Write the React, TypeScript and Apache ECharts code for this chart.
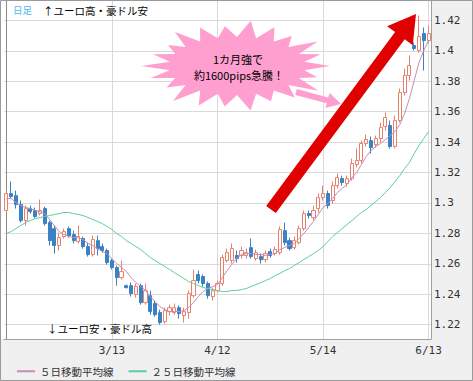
import React, { useEffect, useRef } from "react";
import * as echarts from "echarts";

// Trading days (weekdays) 2013-02-11 .. 2013-06-13
const febDays = [11, 12, 13, 14, 15, 18, 19, 20, 21, 22, 25, 26, 27, 28];
const marDays = [1, 4, 5, 6, 7, 8, 11, 12, 13, 14, 15, 18, 19, 20, 21, 22, 25, 26, 27, 28, 29];
const aprDays = [1, 2, 3, 4, 5, 8, 9, 10, 11, 12, 15, 16, 17, 18, 19, 22, 23, 24, 25, 26, 29, 30];
const mayDays = [1, 2, 3, 6, 7, 8, 9, 10, 13, 14, 15, 16, 17, 20, 21, 22, 23, 24, 27, 28, 29, 30, 31];
const junDays = [3, 4, 5, 6, 7, 10, 11, 12, 13];
const categories: string[] = [
  ...febDays.map((d) => `2/${d}`),
  ...marDays.map((d) => `3/${d}`),
  ...aprDays.map((d) => `4/${d}`),
  ...mayDays.map((d) => `5/${d}`),
  ...junDays.map((d) => `6/${d}`),
];

const gridDates = ["2/11", "3/13", "4/12", "5/14", "6/13"];
const tickLabels = ["3/13", "4/12", "5/14", "6/13"];

// [open, close, low, high]
const ohlc: number[][] = [
  [1.2950, 1.3062, 1.2937, 1.3081],
  [1.3062, 1.3042, 1.3029, 1.3141],
  [1.3048, 1.2989, 1.2963, 1.3081],
  [1.2989, 1.2884, 1.2871, 1.3016],
  [1.2884, 1.2963, 1.2851, 1.2983],
  [1.2963, 1.2943, 1.2930, 1.2983],
  [1.2950, 1.2911, 1.2897, 1.2970],
  [1.2930, 1.2950, 1.2917, 1.3022],
  [1.2963, 1.2864, 1.2851, 1.2976],
  [1.2871, 1.2752, 1.2720, 1.2884],
  [1.2831, 1.2720, 1.2667, 1.2851],
  [1.2720, 1.2772, 1.2687, 1.2805],
  [1.2779, 1.2812, 1.2766, 1.2831],
  [1.2831, 1.2785, 1.2772, 1.2845],
  [1.2792, 1.2752, 1.2733, 1.2818],
  [1.2746, 1.2779, 1.2733, 1.2851],
  [1.2766, 1.2713, 1.2700, 1.2779],
  [1.2713, 1.2660, 1.2647, 1.2739],
  [1.2660, 1.2759, 1.2647, 1.2785],
  [1.2752, 1.2700, 1.2654, 1.2785],
  [1.2713, 1.2687, 1.2673, 1.2733],
  [1.2687, 1.2608, 1.2594, 1.2700],
  [1.2621, 1.2575, 1.2562, 1.2634],
  [1.2575, 1.2509, 1.2456, 1.2588],
  [1.2509, 1.2548, 1.2496, 1.2621],
  [1.2456, 1.2443, 1.2437, 1.2463],
  [1.2456, 1.2404, 1.2384, 1.2476],
  [1.2397, 1.2450, 1.2377, 1.2470],
  [1.2456, 1.2344, 1.2331, 1.2470],
  [1.2344, 1.2423, 1.2331, 1.2470],
  [1.2390, 1.2285, 1.2265, 1.2423],
  [1.2338, 1.2265, 1.2252, 1.2358],
  [1.2279, 1.2213, 1.2200, 1.2298],
  [1.2219, 1.2292, 1.2206, 1.2311],
  [1.2285, 1.2311, 1.2259, 1.2331],
  [1.2279, 1.2311, 1.2265, 1.2338],
  [1.2311, 1.2272, 1.2239, 1.2325],
  [1.2259, 1.2285, 1.2213, 1.2311],
  [1.2279, 1.2404, 1.2239, 1.2423],
  [1.2390, 1.2489, 1.2377, 1.2562],
  [1.2529, 1.2489, 1.2470, 1.2555],
  [1.2516, 1.2470, 1.2450, 1.2529],
  [1.2470, 1.2390, 1.2371, 1.2483],
  [1.2384, 1.2423, 1.2358, 1.2443],
  [1.2423, 1.2470, 1.2410, 1.2489],
  [1.2470, 1.2641, 1.2456, 1.2660],
  [1.2621, 1.2673, 1.2608, 1.2700],
  [1.2621, 1.2700, 1.2601, 1.2733],
  [1.2654, 1.2634, 1.2608, 1.2687],
  [1.2654, 1.2687, 1.2634, 1.2713],
  [1.2654, 1.2673, 1.2634, 1.2700],
  [1.2706, 1.2647, 1.2634, 1.2766],
  [1.2634, 1.2673, 1.2621, 1.2693],
  [1.2647, 1.2627, 1.2601, 1.2667],
  [1.2627, 1.2667, 1.2608, 1.2687],
  [1.2680, 1.2654, 1.2641, 1.2700],
  [1.2667, 1.2693, 1.2654, 1.2713],
  [1.2673, 1.2825, 1.2660, 1.2845],
  [1.2818, 1.2739, 1.2720, 1.2871],
  [1.2752, 1.2700, 1.2687, 1.2772],
  [1.2706, 1.2752, 1.2693, 1.2779],
  [1.2739, 1.2831, 1.2726, 1.2851],
  [1.2831, 1.2930, 1.2818, 1.2950],
  [1.2930, 1.2917, 1.2897, 1.2950],
  [1.2904, 1.2950, 1.2884, 1.2983],
  [1.2963, 1.3035, 1.2937, 1.3062],
  [1.3035, 1.3062, 1.3016, 1.3114],
  [1.3062, 1.2983, 1.2963, 1.3081],
  [1.3016, 1.3114, 1.2996, 1.3141],
  [1.3114, 1.3167, 1.3095, 1.3193],
  [1.3160, 1.3134, 1.3114, 1.3180],
  [1.3127, 1.3160, 1.3108, 1.3180],
  [1.3160, 1.3259, 1.3147, 1.3292],
  [1.3252, 1.3279, 1.3233, 1.3358],
  [1.3279, 1.3391, 1.3259, 1.3410],
  [1.3391, 1.3417, 1.3371, 1.3450],
  [1.3410, 1.3364, 1.3325, 1.3437],
  [1.3384, 1.3424, 1.3364, 1.3443],
  [1.3424, 1.3496, 1.3397, 1.3529],
  [1.3502, 1.3562, 1.3476, 1.3595],
  [1.3509, 1.3371, 1.3358, 1.3542],
  [1.3371, 1.3542, 1.3358, 1.3575],
  [1.3542, 1.3726, 1.3529, 1.3753],
  [1.3726, 1.3838, 1.3707, 1.3884],
  [1.3838, 1.3904, 1.3805, 1.3970],
  [1.4036, 1.4016, 1.4003, 1.4055],
  [1.4003, 1.4095, 1.3989, 1.4233],
  [1.4114, 1.4068, 1.3871, 1.4154],
  [1.4068, 1.4114, 1.4049, 1.4167],
];

const ma5: number[] = [
  1.3029, 1.3029, 1.3003, 1.2983, 1.2970, 1.2963, 1.2950, 1.2943, 1.2930, 1.2891,
  1.2851, 1.2812, 1.2792, 1.2779, 1.2772, 1.2772, 1.2759, 1.2733, 1.2720, 1.2700,
  1.2680, 1.2667, 1.2634, 1.2601, 1.2575, 1.2549, 1.2509, 1.2476, 1.2450, 1.2424,
  1.2384, 1.2351, 1.2318, 1.2299, 1.2286, 1.2286, 1.2286, 1.2292, 1.2312, 1.2345,
  1.2384, 1.2417, 1.2437, 1.2450, 1.2463, 1.2509, 1.2555, 1.2595, 1.2634, 1.2661,
  1.2667, 1.2667, 1.2661, 1.2661, 1.2654, 1.2661, 1.2667, 1.2693, 1.2707, 1.2720,
  1.2733, 1.2766, 1.2799, 1.2838, 1.2878, 1.2924, 1.2970, 1.2996, 1.3029, 1.3068,
  1.3095, 1.3121, 1.3167, 1.3200, 1.3253, 1.3305, 1.3345, 1.3371, 1.3391, 1.3417,
  1.3443, 1.3470, 1.3516, 1.3588, 1.3687, 1.3805, 1.3924, 1.4003, 1.4068,
];

const ma25: number[] = [
  1.2799, 1.2812, 1.2832, 1.2851, 1.2871, 1.2884, 1.2897, 1.2904, 1.2911, 1.2917,
  1.2924, 1.2930, 1.2937, 1.2937, 1.2930, 1.2924, 1.2917, 1.2904, 1.2891, 1.2878,
  1.2864, 1.2845, 1.2825, 1.2799, 1.2779, 1.2753, 1.2733, 1.2713, 1.2693, 1.2667,
  1.2641, 1.2621, 1.2601, 1.2582, 1.2562, 1.2542, 1.2522, 1.2503, 1.2483, 1.2470,
  1.2457, 1.2443, 1.2437, 1.2430, 1.2424, 1.2417, 1.2417, 1.2424, 1.2424, 1.2430,
  1.2437, 1.2450, 1.2463, 1.2476, 1.2489, 1.2503, 1.2522, 1.2536, 1.2555, 1.2568,
  1.2588, 1.2608, 1.2628, 1.2647, 1.2667, 1.2687, 1.2713, 1.2746, 1.2779, 1.2805,
  1.2832, 1.2858, 1.2884, 1.2911, 1.2937, 1.2957, 1.2983, 1.3009, 1.3036, 1.3068,
  1.3101, 1.3141, 1.3180, 1.3226, 1.3266, 1.3325, 1.3378, 1.3424, 1.3470,
];

const JP = '"Noto Sans CJK JP", "Noto Sans", sans-serif';
const MONO = '"DejaVu Sans Mono", "Liberation Mono", monospace';

function starburstPoints(cx: number, cy: number): number[][] {
  const outer = [1.0, 0.9, 1.04, 0.95, 0.88, 1.02, 0.93, 0.99, 1.05, 0.9, 0.97, 1.03, 0.94, 0.88, 1.02, 0.96, 0.91, 1.04, 0.97, 0.9, 1.03, 0.94];
  const n = outer.length;
  const pts: number[][] = [];
  for (let i = 0; i < n; i++) {
    const a0 = (i / n) * Math.PI * 2;
    const a1 = ((i + 0.5) / n) * Math.PI * 2;
    pts.push([cx + 93 * outer[i] * Math.cos(a0), cy + 44 * outer[i] * Math.sin(a0)]);
    pts.push([cx + 68 * Math.cos(a1), cy + 29 * Math.sin(a1)]);
  }
  return pts;
}

function arrowPoints(tail: number[], tip: number[], halfShaft: number, headLen: number, halfHead: number): number[][] {
  const dx = tip[0] - tail[0];
  const dy = tip[1] - tail[1];
  const len = Math.sqrt(dx * dx + dy * dy);
  const ux = dx / len, uy = dy / len;
  const nx = -uy, ny = ux;
  const bx = tip[0] - ux * headLen, by = tip[1] - uy * headLen;
  return [
    [tail[0] + nx * halfShaft, tail[1] + ny * halfShaft],
    [bx + nx * halfShaft, by + ny * halfShaft],
    [bx + nx * halfHead, by + ny * halfHead],
    [tip[0], tip[1]],
    [bx - nx * halfHead, by - ny * halfHead],
    [bx - nx * halfShaft, by - ny * halfShaft],
    [tail[0] - nx * halfShaft, tail[1] - ny * halfShaft],
  ];
}

export default function App() {
  const ref = useRef<HTMLDivElement>(null);
  useEffect(() => {
    document.body.style.margin = "0";
    if (!ref.current) return;
    const chart = echarts.init(ref.current, undefined, { renderer: "svg" });
    const option: any = {
      animation: false,
      backgroundColor: "#f0f0f0",
      grid: { left: 4, right: 42, top: 0, bottom: 42, containLabel: false },
      legend: {
        left: 12,
        top: 361,
        itemWidth: 18,
        itemHeight: 2,
        itemGap: 15,
        icon: "rect",
        textStyle: { fontFamily: JP, fontSize: 10.5, color: "#333" },
        data: ["５日移動平均線", "２５日移動平均線"],
      },
      xAxis: {
        type: "category",
        data: categories,
        boundaryGap: true,
        axisLine: { show: true, lineStyle: { color: "#a0a0a0" } },
        axisTick: { show: false },
        axisLabel: {
          interval: (_i: number, v: string) => tickLabels.includes(v),
          fontFamily: MONO,
          fontSize: 11,
          color: "#333",
          margin: 6,
        },
        splitLine: {
          show: true,
          alignWithLabel: true,
          interval: (_i: number, v: string) => gridDates.includes(v),
          lineStyle: { color: ["#8c8c8c", "#d9d9d9", "#d9d9d9", "#d9d9d9", "#d9d9d9"], width: 1 },
        },
      },
      yAxis: {
        type: "value",
        position: "right",
        min: 1.2105,
        max: 1.4335,
        splitNumber: 11,
        axisLine: { show: true, onZero: false, lineStyle: { color: "#a0a0a0" } },
        axisTick: { show: false },
        axisLabel: {
          fontFamily: MONO,
          fontSize: 11,
          color: "#333",
          margin: 3,
          showMinLabel: false,
          showMaxLabel: false,
        },
        splitLine: { show: true, lineStyle: { color: "#d9d9d9", width: 1 } },
      },
      series: [
        {
          name: "candles",
          type: "candlestick",
          data: ohlc,
          barWidth: 3.6,
          itemStyle: {
            color: "#ffffff",
            color0: "#3a82c6",
            borderColor: "#e8806a",
            borderColor0: "#3a82c6",
            borderWidth: 1,
          },
          z: 3,
        },
        {
          name: "５日移動平均線",
          type: "line",
          data: ma5,
          symbol: "none",
          lineStyle: { color: "#c98bb1", width: 1 },
          itemStyle: { color: "#c98bb1" },
          z: 4,
        },
        {
          name: "２５日移動平均線",
          type: "line",
          data: ma25,
          symbol: "none",
          lineStyle: { color: "#5ccf9c", width: 1 },
          itemStyle: { color: "#5ccf9c" },
          z: 4,
        },
      ],
      graphic: {
        elements: [
          { type: "rect", z: -100, shape: { x: 0, y: 0, width: 431, height: 339 }, style: { fill: "#ffffff" } },
          {
            type: "polygon",
            z: 5,
            shape: { points: starburstPoints(237, 66) },
            style: { fill: "#ff9fcf" },
          },
          {
            type: "polygon",
            z: 5,
            shape: { points: arrowPoints([296, 92], [341, 104], 3, 14, 8) },
            style: { fill: "#ff9fcf" },
          },
          {
            type: "polygon",
            z: 50,
            shape: { points: arrowPoints([271, 209.5], [416, 14], 6, 27, 16) },
            style: { fill: "#e00000" },
          },
          { type: "text", z: 6, x: 238, y: 59, style: { text: "1カ月強で", font: `11px ${JP}`, fill: "#000", align: "center", verticalAlign: "middle" } },
          { type: "text", z: 6, x: 239, y: 75, style: { text: "約1600pips急騰！", font: `11px ${JP}`, fill: "#000", align: "center", verticalAlign: "middle" } },
          { type: "text", z: 6, x: 13, y: 10, style: { text: "日足", font: `9.5px ${JP}`, fill: "#45b8ee", verticalAlign: "middle" } },
          { type: "text", z: 6, x: 43, y: 10, style: { text: "↑ユーロ高・豪ドル安", font: `10.5px ${JP}`, fill: "#000", verticalAlign: "middle" } },
          { type: "text", z: 6, x: 47, y: 328, style: { text: "↓ユーロ安・豪ドル高", font: `10.5px ${JP}`, fill: "#000", verticalAlign: "middle" } },
          { type: "rect", z: 100, shape: { x: 0.5, y: 0.5, width: 472, height: 380 }, style: { fill: "none", stroke: "#9a9a9a", lineWidth: 1 } },
        ],
      },
    };
    chart.setOption(option);
    return () => chart.dispose();
  }, []);
  return <div ref={ref} style={{ width: 473, height: 381 }} />;
}
